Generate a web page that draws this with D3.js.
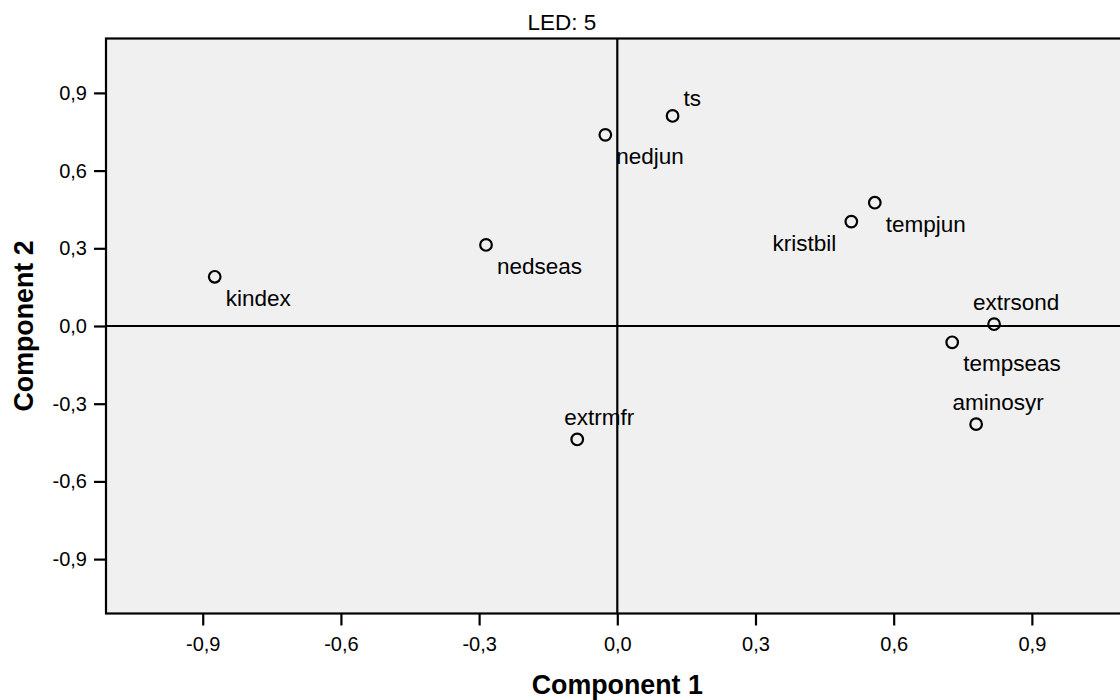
<!DOCTYPE html>
<html>
<head>
<meta charset="utf-8">
<script src="https://cdn.jsdelivr.net/npm/d3@7/dist/d3.min.js"></script>
<style>
  html, body { margin: 0; padding: 0; background: #ffffff; }
  svg { display: block; }
  text { font-family: "Liberation Sans", Arial, sans-serif; fill: #000; }
</style>
</head>
<body>
<svg id="chart" width="1120" height="700"></svg>
<script>
// ---- data ----
const variables  = ["kindex", "nedseas", "extrmfr", "nedjun", "ts", "kristbil", "tempjun", "extrsond", "tempseas", "aminosyr"];
const component1 = [-0.874, -0.285, -0.087, -0.026, 0.120, 0.508, 0.559, 0.818, 0.727, 0.779];
const component2 = [ 0.190,  0.313, -0.438,  0.738, 0.811, 0.403, 0.476, 0.007, -0.063, -0.379];
// label placement relative to its point (layout hint only)
const labelPlacement = ["below", "below", "above", "below", "aboveRight", "belowLeft", "below", "above", "below", "above"];
const tickValues = [-0.9, -0.6, -0.3, 0.0, 0.3, 0.6, 0.9];
const chartTitle = "LED: 5";
const xTitle = "Component 1";
const yTitle = "Component 2";

const points = variables.map((v, i) => ({ name: v, x: component1[i], y: component2[i], place: labelPlacement[i] }));

// ---- layout ----
const svg = d3.select("#chart");
const plotLeft = 106, plotTop = 38.5, plotW = 1022.6, plotH = 575;
const x = d3.scaleLinear().domain([-1.11, 1.11]).range([plotLeft, plotLeft + plotW]);
const y = d3.scaleLinear().domain([-1.11, 1.11]).range([plotTop + plotH, plotTop]);
const fmt = d => d3.format(".1f")(d).replace(".", ",").replace("\u2212", "-");

// background
svg.append("rect")
  .attr("x", plotLeft).attr("y", plotTop).attr("width", plotW).attr("height", plotH)
  .attr("fill", "#f0f0f0");

// labels
const lab = svg.append("g").attr("font-size", 22.5);
points.forEach(p => {
  const px = x(p.x), py = y(p.y);
  const t = lab.append("text").text(p.name);
  if (p.place === "below") {
    t.attr("x", px + 11).attr("y", py + 29).attr("text-anchor", "start");
  } else if (p.place === "above") {
    t.attr("x", px + 22).attr("y", py - 14).attr("text-anchor", "middle");
  } else if (p.place === "aboveRight") {
    t.attr("x", px + 11).attr("y", py - 10).attr("text-anchor", "start");
  } else if (p.place === "belowLeft") {
    t.attr("x", px - 15).attr("y", py + 29).attr("text-anchor", "end");
  }
});

// reference lines at 0
svg.append("line")
  .attr("x1", x(0)).attr("x2", x(0)).attr("y1", plotTop).attr("y2", plotTop + plotH)
  .attr("stroke", "#000").attr("stroke-width", 2.2);
svg.append("line")
  .attr("x1", plotLeft).attr("x2", plotLeft + plotW).attr("y1", y(0)).attr("y2", y(0))
  .attr("stroke", "#000").attr("stroke-width", 2);

// points
svg.append("g").selectAll("circle").data(points).join("circle")
  .attr("cx", d => x(d.x)).attr("cy", d => y(d.y)).attr("r", 5.8)
  .attr("fill", "none").attr("stroke", "#000").attr("stroke-width", 2.2);

// frame
svg.append("rect")
  .attr("x", plotLeft).attr("y", plotTop).attr("width", plotW).attr("height", plotH)
  .attr("fill", "none").attr("stroke", "#000").attr("stroke-width", 2.2);

// axes
const xAxis = d3.axisBottom(x).tickValues(tickValues).tickFormat(fmt).tickSize(12).tickPadding(11);
const gx = svg.append("g").attr("transform", `translate(0,${plotTop + plotH})`).call(xAxis);
const yAxis = d3.axisLeft(y).tickValues(tickValues).tickFormat(fmt).tickSize(12).tickPadding(7);
const gy = svg.append("g").attr("transform", `translate(${plotLeft},0)`).call(yAxis);
[gx, gy].forEach(g => {
  g.select(".domain").remove();
  g.selectAll(".tick line").attr("stroke", "#000").attr("stroke-width", 2.2);
  g.selectAll(".tick text").attr("font-size", 20).attr("font-family", "Liberation Sans, Arial, sans-serif").attr("fill", "#000");
});

// titles
svg.append("text").attr("x", 562).attr("y", 30).attr("text-anchor", "middle")
  .attr("font-size", 22.5).text(chartTitle);
svg.append("text").attr("x", plotLeft + plotW / 2).attr("y", 694).attr("text-anchor", "middle")
  .attr("font-size", 26.8).attr("font-weight", "bold").text(xTitle);
svg.append("text").attr("transform", `translate(33,${plotTop + plotH / 2}) rotate(-90)`)
  .attr("text-anchor", "middle")
  .attr("font-size", 26.8).attr("font-weight", "bold").text(yTitle);
</script>
</body>
</html>
